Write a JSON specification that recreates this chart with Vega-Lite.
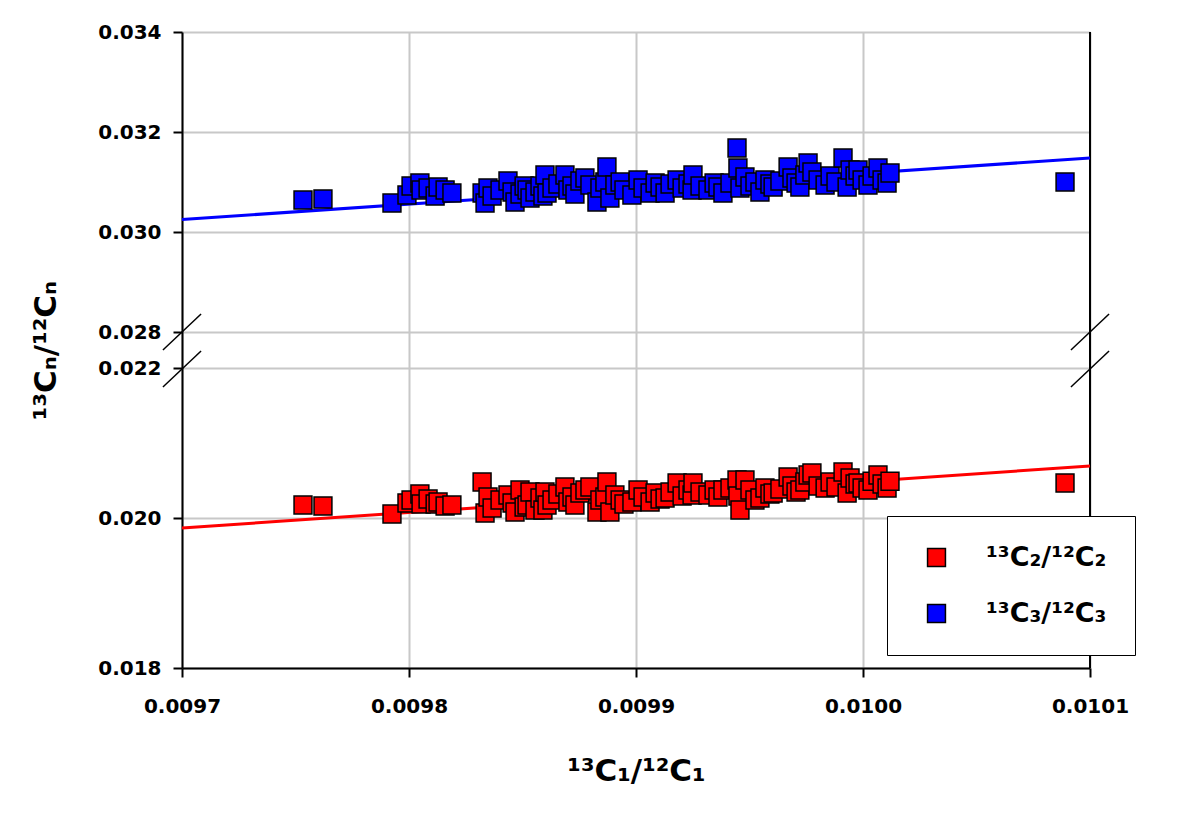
{
  "$schema": "https://vega.github.io/schema/vega-lite/v6.json",
  "autosize": {"type": "none"},
  "width": 908,
  "height": 636,
  "padding": {"left": 182, "top": 32, "right": 110, "bottom": 145},
  "background": "white",
  "config": {
    "view": {"stroke": null},
    "font": "DejaVu Sans",
    "axis": {"labelFont": "DejaVu Sans", "titleFont": "DejaVu Sans", "labelFontWeight": "bold", "titleFontWeight": "bold", "labelColor": "black", "titleColor": "black", "domainColor": "black", "tickColor": "black", "gridColor": "#c8c8c8", "gridWidth": 2, "domainWidth": 2, "tickWidth": 2}
  },
  "datasets": {
    "pts": [
      {"x": 0.0097533, "c3": 0.03064, "c2": 0.020173},
      {"x": 0.0097621, "c3": 0.03066, "c2": 0.02016},
      {"x": 0.0097925, "c3": 0.03058, "c2": 0.020053},
      {"x": 0.0097991, "c3": 0.03074, "c2": 0.0202},
      {"x": 0.0098009, "c3": 0.03092, "c2": 0.02024},
      {"x": 0.0098048, "c3": 0.03098, "c2": 0.02032},
      {"x": 0.0098053, "c3": 0.03084, "c2": 0.020187},
      {"x": 0.0098084, "c3": 0.03088, "c2": 0.020253},
      {"x": 0.0098115, "c3": 0.03072, "c2": 0.020187},
      {"x": 0.0098128, "c3": 0.0309, "c2": 0.020213},
      {"x": 0.0098159, "c3": 0.03084, "c2": 0.02016},
      {"x": 0.0098189, "c3": 0.03078, "c2": 0.020173},
      {"x": 0.0098322, "c3": 0.03078, "c2": 0.02048},
      {"x": 0.0098335, "c3": 0.03058, "c2": 0.020067},
      {"x": 0.0098348, "c3": 0.03088, "c2": 0.02028},
      {"x": 0.0098366, "c3": 0.03072, "c2": 0.020133},
      {"x": 0.0098401, "c3": 0.03084, "c2": 0.02024},
      {"x": 0.0098436, "c3": 0.03102, "c2": 0.020307},
      {"x": 0.0098454, "c3": 0.0308, "c2": 0.0202},
      {"x": 0.0098467, "c3": 0.0306, "c2": 0.02008},
      {"x": 0.0098489, "c3": 0.03076, "c2": 0.020373},
      {"x": 0.0098507, "c3": 0.03092, "c2": 0.020147},
      {"x": 0.009852, "c3": 0.03084, "c2": 0.020173},
      {"x": 0.0098533, "c3": 0.03068, "c2": 0.020347},
      {"x": 0.0098555, "c3": 0.0308, "c2": 0.020107},
      {"x": 0.0098577, "c3": 0.03092, "c2": 0.020267},
      {"x": 0.009859, "c3": 0.03072, "c2": 0.020107},
      {"x": 0.0098599, "c3": 0.03114, "c2": 0.020347},
      {"x": 0.0098608, "c3": 0.03078, "c2": 0.020173},
      {"x": 0.009863, "c3": 0.03088, "c2": 0.02024},
      {"x": 0.0098656, "c3": 0.03096, "c2": 0.02032},
      {"x": 0.0098687, "c3": 0.03114, "c2": 0.020413},
      {"x": 0.00987, "c3": 0.03084, "c2": 0.020213},
      {"x": 0.0098718, "c3": 0.03092, "c2": 0.02028},
      {"x": 0.0098731, "c3": 0.03076, "c2": 0.020173},
      {"x": 0.0098753, "c3": 0.03102, "c2": 0.020333},
      {"x": 0.0098775, "c3": 0.03108, "c2": 0.020373},
      {"x": 0.0098797, "c3": 0.03094, "c2": 0.020413},
      {"x": 0.0098828, "c3": 0.0306, "c2": 0.02008},
      {"x": 0.0098841, "c3": 0.03088, "c2": 0.02024},
      {"x": 0.0098863, "c3": 0.031, "c2": 0.02028},
      {"x": 0.0098872, "c3": 0.0313, "c2": 0.02048},
      {"x": 0.0098885, "c3": 0.03068, "c2": 0.02008},
      {"x": 0.0098907, "c3": 0.03094, "c2": 0.020307},
      {"x": 0.009893, "c3": 0.031, "c2": 0.02024},
      {"x": 0.0098947, "c3": 0.03084, "c2": 0.020187},
      {"x": 0.0098982, "c3": 0.03074, "c2": 0.020213},
      {"x": 0.0099009, "c3": 0.03104, "c2": 0.020373},
      {"x": 0.0099031, "c3": 0.03088, "c2": 0.02028},
      {"x": 0.0099062, "c3": 0.03078, "c2": 0.020213},
      {"x": 0.0099084, "c3": 0.03098, "c2": 0.020333},
      {"x": 0.0099106, "c3": 0.0309, "c2": 0.020253},
      {"x": 0.0099128, "c3": 0.03078, "c2": 0.020267},
      {"x": 0.009915, "c3": 0.03096, "c2": 0.020347},
      {"x": 0.0099181, "c3": 0.03104, "c2": 0.020467},
      {"x": 0.0099203, "c3": 0.03088, "c2": 0.020293},
      {"x": 0.0099229, "c3": 0.03096, "c2": 0.020373},
      {"x": 0.0099247, "c3": 0.03084, "c2": 0.020307},
      {"x": 0.0099251, "c3": 0.03114, "c2": 0.020467},
      {"x": 0.0099282, "c3": 0.03092, "c2": 0.020347},
      {"x": 0.0099317, "c3": 0.03084, "c2": 0.020307},
      {"x": 0.0099344, "c3": 0.03098, "c2": 0.020373},
      {"x": 0.0099361, "c3": 0.0309, "c2": 0.02028},
      {"x": 0.0099383, "c3": 0.03078, "c2": 0.020373},
      {"x": 0.0099414, "c3": 0.03098, "c2": 0.0204},
      {"x": 0.0099445, "c3": 0.03168, "c2": 0.020507},
      {"x": 0.0099449, "c3": 0.03128, "c2": 0.020293},
      {"x": 0.0099458, "c3": 0.03088, "c2": 0.020107},
      {"x": 0.009948, "c3": 0.0311, "c2": 0.020507},
      {"x": 0.0099502, "c3": 0.03092, "c2": 0.020373},
      {"x": 0.0099524, "c3": 0.031, "c2": 0.02024},
      {"x": 0.0099546, "c3": 0.0308, "c2": 0.020267},
      {"x": 0.0099568, "c3": 0.03104, "c2": 0.0204},
      {"x": 0.009959, "c3": 0.03096, "c2": 0.02032},
      {"x": 0.0099604, "c3": 0.0309, "c2": 0.020333},
      {"x": 0.0099634, "c3": 0.03102, "c2": 0.020387},
      {"x": 0.009967, "c3": 0.0313, "c2": 0.020547},
      {"x": 0.0099687, "c3": 0.03108, "c2": 0.020427},
      {"x": 0.0099705, "c3": 0.03098, "c2": 0.020347},
      {"x": 0.0099722, "c3": 0.0309, "c2": 0.020373},
      {"x": 0.0099744, "c3": 0.03114, "c2": 0.02048},
      {"x": 0.0099758, "c3": 0.03138, "c2": 0.020573},
      {"x": 0.0099775, "c3": 0.0312, "c2": 0.0206},
      {"x": 0.0099802, "c3": 0.03104, "c2": 0.020427},
      {"x": 0.0099833, "c3": 0.03094, "c2": 0.0204},
      {"x": 0.0099855, "c3": 0.03112, "c2": 0.02048},
      {"x": 0.0099881, "c3": 0.031, "c2": 0.020413},
      {"x": 0.0099912, "c3": 0.03148, "c2": 0.020613},
      {"x": 0.009993, "c3": 0.0309, "c2": 0.020333},
      {"x": 0.0099943, "c3": 0.03124, "c2": 0.020533},
      {"x": 0.0099965, "c3": 0.03112, "c2": 0.020453},
      {"x": 0.0099978, "c3": 0.03124, "c2": 0.020467},
      {"x": 0.0099996, "c3": 0.03104, "c2": 0.0204},
      {"x": 0.0100022, "c3": 0.03094, "c2": 0.020373},
      {"x": 0.010004, "c3": 0.03112, "c2": 0.02049},
      {"x": 0.0100066, "c3": 0.03128, "c2": 0.020573},
      {"x": 0.0100084, "c3": 0.03104, "c2": 0.020453},
      {"x": 0.0100106, "c3": 0.03098, "c2": 0.0204},
      {"x": 0.0100119, "c3": 0.03118, "c2": 0.02049},
      {"x": 0.010089, "c3": 0.031, "c2": 0.020467}
    ],
    "fits": [
      {"series": "c3", "xa": 0.0097, "ya": 0.03025, "xb": 0.0101, "yb": 0.03148},
      {"series": "c2", "xa": 0.0097, "ya": 0.019867, "xb": 0.0101, "yb": 0.020693}
    ],
    "breaks": [
      {"xa": 0.0096916, "ya": 0.025, "xb": 0.0097084, "yb": 0.02836},
      {"xa": 0.0096916, "ya": 0.021747, "xb": 0.0097084, "yb": 0.024833},
      {"xa": 0.0100916, "ya": 0.025, "xb": 0.0101084, "yb": 0.02836},
      {"xa": 0.0100916, "ya": 0.021747, "xb": 0.0101084, "yb": 0.024833}
    ],
    "frame": [
      {"xa": 0.0101, "ya": 0.018, "yb": 0.034}
    ]
  },
  "layer": [
    {
      "data": {"name": "frame"},
      "mark": {"type": "rule", "color": "black", "strokeWidth": 2},
      "encoding": {
        "x": {"field": "xa", "type": "quantitative", "scale": {"domain": [0.0097, 0.0101], "nice": false, "zero": false},
          "axis": {"values": [0.0097, 0.0098, 0.0099, 0.01, 0.0101], "format": ".4f", "title": "¹³C₁/¹²C₁", "labelFontSize": 20, "titleFontSize": 31, "tickSize": 9, "labelPadding": 19, "titlePadding": 40, "labelFlush": false, "labelOverlap": false, "grid": true}},
        "y": {"field": "ya", "type": "quantitative", "scale": {"domain": [0.018, 0.022, 0.028, 0.034], "range": [636, 336, 300, 0], "nice": false, "zero": false},
          "axis": {"values": [0.018, 0.02, 0.022, 0.028, 0.03, 0.032, 0.034], "format": ".3f", "title": "¹³Cₙ/¹²Cₙ", "labelFontSize": 20, "titleFontSize": 31, "tickSize": 9, "labelPadding": 12, "titlePadding": 35, "labelOverlap": false, "labelFlush": false, "grid": true}},
        "y2": {"field": "yb"}
      }
    },
    {
      "data": {"name": "breaks"},
      "mark": {"type": "rule", "color": "black", "strokeWidth": 1.5},
      "encoding": {
        "x": {"field": "xa", "type": "quantitative"},
        "y": {"field": "ya", "type": "quantitative"},
        "x2": {"field": "xb"},
        "y2": {"field": "yb"}
      }
    },
    {
      "data": {"name": "fits"},
      "transform": [{"filter": "datum.series == 'c3'"}],
      "mark": {"type": "rule", "color": "#0000ff", "strokeWidth": 3},
      "encoding": {
        "x": {"field": "xa", "type": "quantitative"},
        "y": {"field": "ya", "type": "quantitative"},
        "x2": {"field": "xb"},
        "y2": {"field": "yb"}
      }
    },
    {
      "data": {"name": "fits"},
      "transform": [{"filter": "datum.series == 'c2'"}],
      "mark": {"type": "rule", "color": "#ff0000", "strokeWidth": 3},
      "encoding": {
        "x": {"field": "xa", "type": "quantitative"},
        "y": {"field": "ya", "type": "quantitative"},
        "x2": {"field": "xb"},
        "y2": {"field": "yb"}
      }
    },
    {
      "data": {"name": "pts"},
      "transform": [{"fold": ["c2", "c3"], "as": ["series", "ratio"]}],
      "mark": {"type": "point", "shape": "square", "filled": true, "size": 320, "stroke": "black", "strokeWidth": 1.5, "opacity": 1},
      "encoding": {
        "x": {"field": "x", "type": "quantitative"},
        "y": {"field": "ratio", "type": "quantitative"},
        "color": {"field": "series", "type": "nominal",
          "scale": {"domain": ["c2", "c3"], "range": ["#ff0000", "#0000ff"]},
          "legend": {"orient": "none", "legendX": 705, "legendY": 484, "title": null, "direction": "vertical",
            "fillColor": "white", "strokeColor": "black", "padding": 28,
            "labelExpr": "datum.value == 'c2' ? '¹³C₂/¹²C₂' : '¹³C₃/¹²C₃'",
            "labelFont": "DejaVu Sans", "labelFontWeight": "bold", "labelFontSize": 27, "labelColor": "black", "labelLimit": 300,
            "labelOffset": 36, "rowPadding": 28, "symbolOffset": 8,
            "symbolType": "square", "symbolSize": 320, "symbolStrokeColor": "black", "symbolStrokeWidth": 1.5, "symbolOpacity": 1}}
      }
    }
  ]
}
